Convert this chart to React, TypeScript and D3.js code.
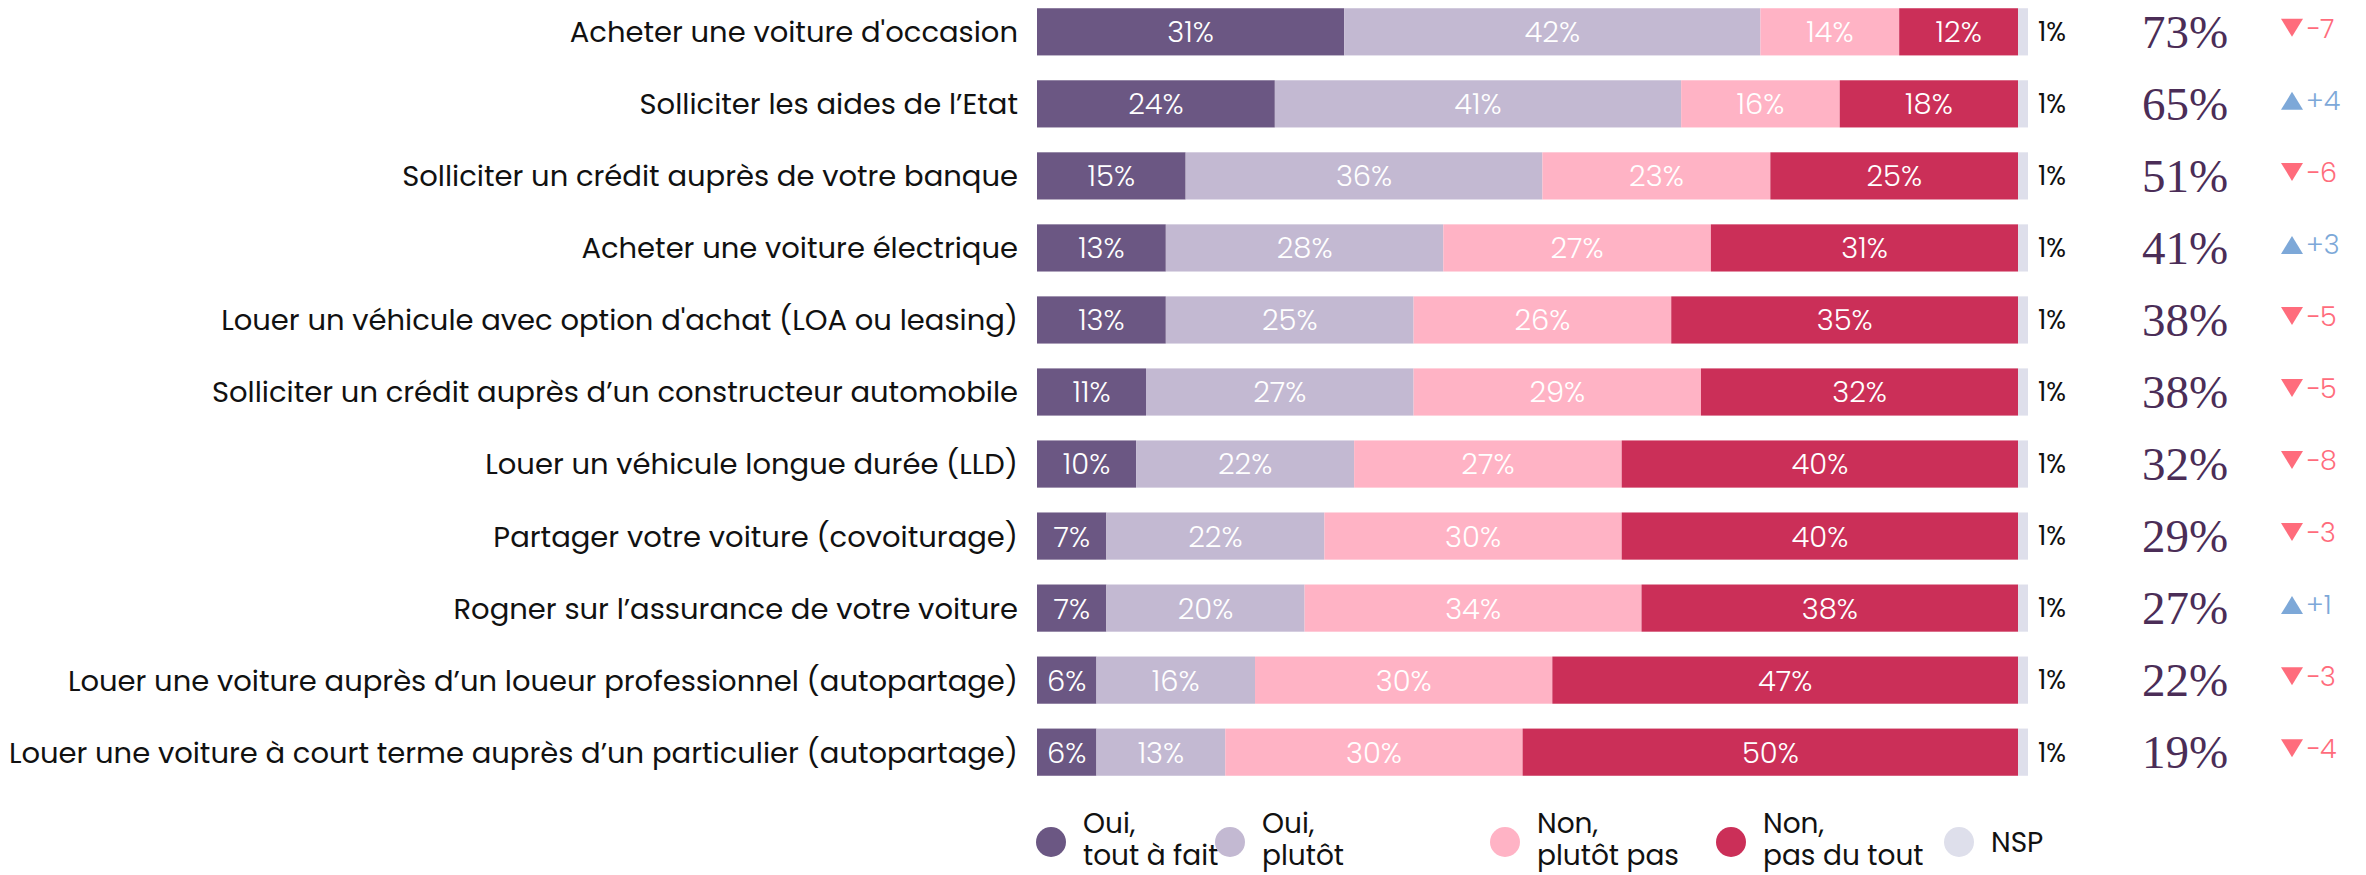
import React from "react";
import * as d3 from "d3";

const categories = [
  "Acheter une voiture d'occasion",
  "Solliciter les aides de l\u2019Etat",
  "Solliciter un crédit auprès de votre banque",
  "Acheter une voiture électrique",
  "Louer un véhicule avec option d'achat (LOA ou leasing)",
  "Solliciter un crédit auprès d\u2019un constructeur automobile",
  "Louer un véhicule longue durée (LLD)",
  "Partager votre voiture (covoiturage)",
  "Rogner sur l\u2019assurance de votre voiture",
  "Louer une voiture auprès d\u2019un loueur professionnel (autopartage)",
  "Louer une voiture à court terme auprès d\u2019un particulier (autopartage)",
];

const ouiTout = [31, 24, 15, 13, 13, 11, 10, 7, 7, 6, 6];
const ouiPlutot = [42, 41, 36, 28, 25, 27, 22, 22, 20, 16, 13];
const nonPlutot = [14, 16, 23, 27, 26, 29, 27, 30, 34, 30, 30];
const nonPasDuTout = [12, 18, 25, 31, 35, 32, 40, 40, 38, 47, 50];
const nsp = [1, 1, 1, 1, 1, 1, 1, 1, 1, 1, 1];
const totalOui = [73, 65, 51, 41, 38, 38, 32, 29, 27, 22, 19];
const evolution = [-7, 4, -6, 3, -5, -5, -8, -3, 1, -3, -4];

const seriesNames = [
  ["Oui,", "tout à fait"],
  ["Oui,", "plutôt"],
  ["Non,", "plutôt pas"],
  ["Non,", "pas du tout"],
  ["NSP"],
];
const colors = ["#6B5783", "#C3B9D2", "#FFB3C5", "#CB2F58", "#DEDFEB"];

const series = [ouiTout, ouiPlutot, nonPlutot, nonPasDuTout, nsp];

export default function App() {
  const width = 2366;
  const height = 875;
  const x = d3.scaleLinear().domain([0, 100]).range([1037, 2028]);
  const y = d3
    .scaleBand()
    .domain(categories)
    .range([-4, 788])
    .paddingInner(0.345)
    .paddingOuter(0.17);
  const bh = y.bandwidth();

  const legendX = [1051, 1230, 1505, 1731, 1959];
  const labelFont = "Poppins, 'Open Sans', sans-serif";

  return (
    <svg
      width={width}
      height={height}
      style={{ position: "absolute", left: 0, top: 0, background: "#fff" }}
    >
      {categories.map((cat, i) => {
        const yy = y(cat)!;
        const cy = yy + bh / 2;
        let acc = 0;
        const segs = series.map((s, k) => {
          const x0 = x(acc);
          acc += s[i];
          return { x0, x1: x(acc), v: s[i], k };
        });
        const ev = evolution[i];
        const up = ev > 0;
        const evColor = up ? "#7DA8D8" : "#FF6C7C";
        const tx = 2292;
        return (
          <g key={cat}>
            <text
              x={1018}
              y={cy}
              dy="0.36em"
              textAnchor="end"
              fontFamily={labelFont}
              fontSize={29}
              fill="#111"
            >
              {cat}
            </text>
            {segs.map((s) => (
              <rect
                key={s.k}
                x={s.x0}
                y={yy}
                width={Math.max(0, s.x1 - s.x0)}
                height={bh}
                fill={colors[s.k]}
              />
            ))}
            {segs.slice(0, 4).map((s) => (
              <text
                key={"t" + s.k}
                x={(s.x0 + s.x1) / 2}
                y={cy}
                dy="0.36em"
                textAnchor="middle"
                fontFamily={labelFont}
                fontSize={29}
                fontWeight={300}
                fill="#fff"
              >
                {s.v}%
              </text>
            ))}
            <text
              x={2038}
              y={cy}
              dy="0.36em"
              fontFamily={labelFont}
              fontSize={26}
              fill="#111"
            >
              {nsp[i]}%
            </text>
            <text
              x={2185}
              y={cy}
              dy="0.34em"
              textAnchor="middle"
              fontFamily="'Liberation Serif', serif"
              fontSize={47}
              fill="#4B2D57"
            >
              {totalOui[i]}%
            </text>
            <path
              d={
                up
                  ? `M${tx - 11},${cy + 6} L${tx + 11},${cy + 6} L${tx},${cy - 12} Z`
                  : `M${tx - 11},${cy - 13} L${tx + 11},${cy - 13} L${tx},${cy + 5} Z`
              }
              fill={evColor}
            />
            <text
              x={tx + 14}
              y={cy - 4}
              dy="0.36em"
              fontFamily={labelFont}
              fontSize={27}
              fontWeight={300}
              fill={evColor}
            >
              {up ? "+" + ev : "\u2212" + Math.abs(ev)}
            </text>
          </g>
        );
      })}
      {seriesNames.map((lines, k) => (
        <g key={k}>
          <circle cx={legendX[k]} cy={842} r={15} fill={colors[k]} />
          {lines.length === 1 ? (
            <text
              x={legendX[k] + 32}
              y={842}
              dy="0.36em"
              fontFamily={labelFont}
              fontSize={28}
              fill="#111"
            >
              {lines[0]}
            </text>
          ) : (
            <text
              x={legendX[k] + 32}
              y={833}
              fontFamily={labelFont}
              fontSize={28}
              fill="#111"
            >
              {lines.map((l, j) => (
                <tspan key={j} x={legendX[k] + 32} dy={j === 0 ? 0 : 32}>
                  {l}
                </tspan>
              ))}
            </text>
          )}
        </g>
      ))}
    </svg>
  );
}
